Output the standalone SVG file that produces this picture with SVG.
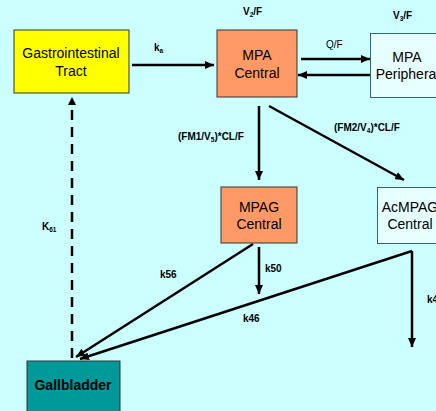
<svg xmlns="http://www.w3.org/2000/svg" width="436" height="411" viewBox="0 0 436 411">
<defs>
<marker id="ah" markerUnits="userSpaceOnUse" markerWidth="10" markerHeight="8" refX="9" refY="4" orient="auto">
<path d="M0,0 L9,4 L0,8 z" fill="#000"/>
</marker>
<style>
.bg{fill:#CCFFFF}
.node{stroke:#333;stroke-width:1}
.nt{font-family:"Liberation Sans",Arial,sans-serif;font-size:14px;fill:#000;text-anchor:middle}
.lbl{font-family:"Liberation Sans",Arial,sans-serif;font-size:10px;font-weight:bold;fill:#000}
.sub{font-size:6.5px}
.e{stroke:#000;stroke-width:2.5;fill:none;marker-end:url(#ah)}
.d{stroke:#000;stroke-width:2.5;fill:none;stroke-dasharray:10 7}
</style>
</defs>
<rect class="bg" x="0" y="0" width="436" height="411"/>

<g id="connectors">
<path class="e" d="M132,65 L214,65"/>
<path class="e" d="M301,59 L370,59"/>
<path class="e" d="M370,75 L298,75"/>
<path class="e" d="M259,106 L259,180"/>
<path class="e" d="M269,106 L404,180"/>
<path class="e" d="M253,244 L76,357"/>
<path class="e" d="M259,247 L259,294"/>
<path class="e" d="M412,251 L80,359"/>
<path class="e" d="M412,251 L412,347"/>
<path class="d" d="M72,358 L72,107"/>
<path d="M68,105 L72,97 L76,105 z" fill="#000"/>
</g>

<g id="labels">
<text class="lbl" x="154" y="51">k<tspan class="sub" dy="2">a</tspan></text>
<text class="lbl" x="243" y="15">V<tspan class="sub" dy="2">2</tspan><tspan dy="-2">/F</tspan></text>
<text class="lbl" x="393" y="19">V<tspan class="sub" dy="2">3</tspan><tspan dy="-2">/F</tspan></text>
<text class="lbl" x="326" y="48" style="font-weight:normal">Q/F</text>
<text class="lbl" x="178" y="140">(FM1/V<tspan class="sub" dy="2">5</tspan><tspan dy="-2">)*CL/F</tspan></text>
<text class="lbl" x="334" y="131">(FM2/V<tspan class="sub" dy="2">4</tspan><tspan dy="-2">)*CL/F</tspan></text>
<text class="lbl" x="42" y="230">K<tspan class="sub" dy="2">61</tspan></text>
<text class="lbl" x="160" y="278">k56</text>
<text class="lbl" x="265" y="272">k50</text>
<text class="lbl" x="243" y="322">k46</text>
<text class="lbl" x="427" y="303">k4</text>
</g>

<g id="gi">
<rect class="node" x="14" y="30" width="115" height="63" fill="#FFFF00"/>
<text class="nt" x="71" y="58">Gastrointestinal</text>
<text class="nt" x="71" y="76">Tract</text>
</g>
<g id="mpa-central">
<rect class="node" x="217" y="30" width="80" height="67" fill="#FF9966"/>
<text class="nt" x="257" y="60">MPA</text>
<text class="nt" x="257" y="78">Central</text>
</g>
<g id="mpa-peripheral">
<rect x="370.5" y="33.5" width="80" height="64" fill="#E6FFFF" stroke="#336666" stroke-width="1"/>
<text class="nt" x="407" y="62">MPA</text>
<text class="nt" x="406" y="79">Periphera</text>
</g>
<g id="mpag-central">
<rect class="node" x="221" y="187" width="76" height="56" fill="#FF9966"/>
<text class="nt" x="259" y="212">MPAG</text>
<text class="nt" x="259" y="229">Central</text>
</g>
<g id="acmpag-central">
<rect x="377.5" y="187.5" width="70" height="56" fill="#E6FFFF" stroke="#336666" stroke-width="1"/>
<text class="nt" x="410" y="212">AcMPAG</text>
<text class="nt" x="410" y="229">Central</text>
</g>
<g id="gallbladder">
<rect class="node" x="27" y="361" width="93" height="60" fill="#009999"/>
<text class="nt" x="73" y="390" style="font-weight:bold">Gallbladder</text>
</g>
</svg>
